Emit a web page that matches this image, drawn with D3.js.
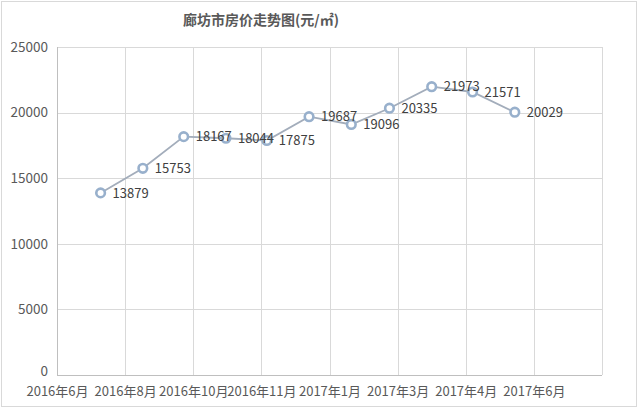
<!DOCTYPE html>
<html>
<head>
<meta charset="utf-8">
<script src="https://cdn.jsdelivr.net/npm/d3@7"></script>
<style>
  html, body { margin: 0; padding: 0; background: #ffffff; }
  svg { display: block; }
</style>
</head>
<body>
<svg id="chart" width="640" height="409"></svg>
<script>
// ---- data ----
const title = "廊坊市房价走势图(元/㎡)";
const dates = ["2016-07-31","2016-08-31","2016-09-30","2016-10-31","2016-11-30","2016-12-31",
               "2017-01-31","2017-02-28","2017-03-31","2017-04-30","2017-05-31"];
const prices = [13879, 15753, 18167, 18044, 17875, 19687, 19096, 20335, 21973, 21571, 20029];
const tickDates = ["2016-06-29","2016-08-18","2016-10-07","2016-11-26","2017-01-15",
                   "2017-03-06","2017-04-25","2017-06-14","2017-08-03"];
const tickLabels = ["2016年6月","2016年8月","2016年10月","2016年11月","2017年1月",
                    "2017年3月","2017年4月","2017年6月",""];
const yTicks = [0, 5000, 10000, 15000, 20000, 25000];

(function () {
// ---- layout ----
const svg = d3.select("#chart");
const pL = 57, pR = 602, pT = 47, pB = 375;
const font = "'Noto Sans CJK SC', 'Noto Sans', sans-serif";
const parse = d3.timeParse("%Y-%m-%d");

// outer frame
svg.append("rect").attr("x", 1.5).attr("y", 1.5).attr("width", 635).attr("height", 405)
  .attr("fill", "#fff").attr("stroke", "#d9d9d9").attr("stroke-width", 1);

const x = d3.scaleTime()
  .domain([parse(tickDates[0]), parse(tickDates[tickDates.length - 1])])
  .range([pL, pR]);
const y = d3.scaleLinear().domain([0, 25000]).range([pB, pT]);

// horizontal grid + y axis
const yAxis = d3.axisLeft(y).tickValues(yTicks).tickSize(-(pR - pL)).tickPadding(9)
  .tickFormat(d3.format("d"));
const gy = svg.append("g").attr("transform", `translate(${pL},0)`).call(yAxis);
gy.select(".domain").remove();
gy.selectAll(".tick line").attr("stroke", "#d9d9d9").attr("shape-rendering", "crispEdges");
gy.selectAll(".tick text").attr("fill", "#595959").attr("font-size", 13.5)
  .attr("font-family", font);
gy.selectAll(".tick").filter(d => d === 0).select("text").attr("dy", "0.06em");

// vertical grid + x axis
const tickVals = tickDates.map(parse);
const xAxis = d3.axisBottom(x).tickValues(tickVals).tickSize(-(pB - pT)).tickPadding(12)
  .tickFormat((d, i) => tickLabels[i]);
const gx = svg.append("g").attr("transform", `translate(0,${pB})`).call(xAxis);
gx.select(".domain").remove();
gx.selectAll(".tick line").attr("stroke", "#d9d9d9").attr("shape-rendering", "crispEdges");
gx.selectAll(".tick text").attr("fill", "#595959").attr("font-size", 13)
  .attr("font-family", font);

// axis lines
svg.append("line").attr("x1", pL).attr("x2", pL).attr("y1", pT).attr("y2", pB)
  .attr("stroke", "#bfbfbf").attr("shape-rendering", "crispEdges");
svg.append("line").attr("x1", pL).attr("x2", pR).attr("y1", pB).attr("y2", pB)
  .attr("stroke", "#bfbfbf").attr("shape-rendering", "crispEdges");

// title
svg.append("text").attr("x", 261).attr("y", 25).attr("text-anchor", "middle")
  .attr("font-family", font).attr("font-size", 14).attr("font-weight", "bold")
  .attr("fill", "#595959").text(title);

// series
const data = dates.map((d, i) => ({ date: parse(d), value: prices[i] }));
const line = d3.line().x(d => x(d.date)).y(d => y(d.value));
svg.append("path").datum(data).attr("d", line)
  .attr("fill", "none").attr("stroke", "#a3adbb").attr("stroke-width", 1.8);

svg.selectAll("circle.pt").data(data).enter().append("circle").attr("class", "pt")
  .attr("cx", d => x(d.date)).attr("cy", d => y(d.value)).attr("r", 4.3)
  .attr("fill", "#ffffff").attr("stroke", "#98b0cc").attr("stroke-width", 2.6);

svg.selectAll("text.lbl").data(data).enter().append("text").attr("class", "lbl")
  .attr("x", d => x(d.date) + 12).attr("y", d => y(d.value))
  .attr("dy", "0.36em").attr("font-family", font).attr("font-size", 13)
  .attr("fill", "#404040").text(d => d.value);
})();
</script>
</body>
</html>
